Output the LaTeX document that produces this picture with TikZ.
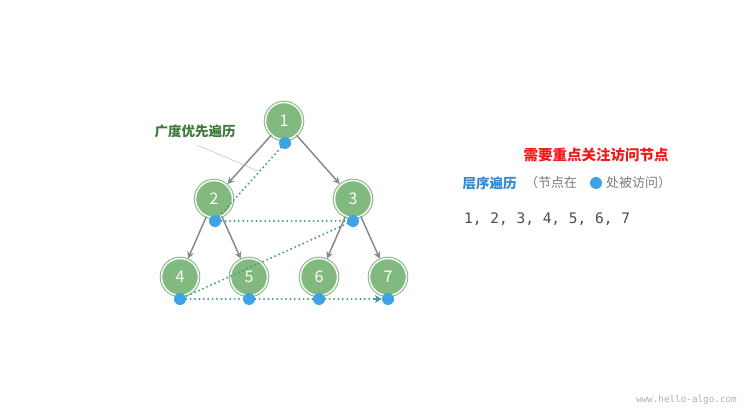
\documentclass[tikz,border=0pt]{standalone}
\usepackage{fontspec}
\usetikzlibrary{arrows.meta}
\newfontfamily\cjk{Noto Sans CJK SC}
\newfontfamily\monof{DejaVu Sans Mono}
\definecolor{ngreen}{HTML}{82B97E}
\definecolor{ring}{HTML}{86BC82}
\definecolor{dotblue}{HTML}{3DA2E6}
\definecolor{trav}{HTML}{449D91}
\definecolor{edgegray}{HTML}{8A8A8A}
\definecolor{lblgreen}{HTML}{3F7A3C}
\definecolor{lblblue}{HTML}{2E8AD4}
\definecolor{lblred}{HTML}{F01818}
\definecolor{txtgray}{HTML}{7A7A7A}
\tikzset{
  tn/.style={circle, fill=ngreen, draw=ring, line width=1.1pt, double=white, double distance=1.4pt,
    minimum size=37pt, inner sep=0pt, text=white, font=\cjk\fontsize{16}{16}\selectfont},
  vdot/.style={circle, fill=dotblue, minimum size=12pt, inner sep=0pt},
  tedge/.style={draw=edgegray, line width=1.5pt, -{Stealth[length=7pt,width=7pt]}, shorten >=1pt},
  tpath/.style={draw=trav, line width=2.2pt, line cap=round, dash pattern=on 0pt off 4.4pt},
}
\begin{document}
\begin{tikzpicture}[x=1pt,y=-1pt]
\useasboundingbox[fill=white] (0,0) rectangle (746,409);
% tree nodes
\node[tn] (n1) at (284,121) {1};
\node[tn] (n2) at (214,199) {2};
\node[tn] (n3) at (353,199) {3};
\node[tn] (n4) at (180,277) {4};
\node[tn] (n5) at (249,277) {5};
\node[tn] (n6) at (319,277) {6};
\node[tn] (n7) at (388,277) {7};
% tree edges
\draw[tedge] (n1) -- (n2);
\draw[tedge] (n1) -- (n3);
\draw[tedge] (n2) -- (n4);
\draw[tedge] (n2) -- (n5);
\draw[tedge] (n3) -- (n6);
\draw[tedge] (n3) -- (n7);
% visit dots
\node[vdot] (d1) at (285,143) {};
\node[vdot] (d2) at (215,221) {};
\node[vdot] (d3) at (353,221) {};
\node[vdot] (d4) at (180,299) {};
\node[vdot] (d5) at (249,299) {};
\node[vdot] (d6) at (319,299) {};
\node[vdot] (d7) at (388,299) {};
% traversal path
\draw[tpath] (d1) -- (d2);
\draw[tpath] (d2) -- (d3);
\draw[tpath] (d3) -- (d4);
\draw[tpath] (d4) -- (d5);
\draw[tpath] (d5) -- (d6);
\draw[tpath] (d6) -- (d7);
\draw[draw=trav, line width=2pt, -{Stealth[length=7pt,width=8pt]}] ([xshift=-8pt]d7.west) -- (d7.west);
% label
\node[font=\cjk\bfseries\fontsize{13.5}{14}\selectfont, text=lblgreen] (lbl) at (195,131) {广度优先遍历};
\coordinate (la) at (197,145);
\coordinate (lb) at (258,171);
\draw[draw=gray!50, line width=0.5pt] (la) -- (lb);
% right side texts
\node[font=\cjk\bfseries\fontsize{14.5}{15}\selectfont, text=lblred] (t1) at (596,155) {需要重点关注访问节点};
\node[font=\cjk\bfseries\fontsize{13.5}{14}\selectfont, text=lblblue, anchor=west] (t2) at (459,183) {层序遍历};
\node[font=\cjk\fontsize{13}{14}\selectfont, text=txtgray, anchor=west, inner sep=0pt] (t3a) at (525,183) {（节点在};
\node[vdot] (t3d) at (596,183) {};
\node[font=\cjk\fontsize{13}{14}\selectfont, text=txtgray, anchor=west, inner sep=0pt] (t3b) at (606,183) {处被访问）};
\node[font=\monof\fontsize{14.5}{15}\selectfont, text=black!70, anchor=west, inner sep=0pt] (seq) at (464,219) {1, 2, 3, 4, 5, 6, 7};
\node[font=\monof\fontsize{9.3}{10}\selectfont, text=black!30, anchor=east, inner sep=0pt] (wm) at (737,400) {www.hello-algo.com};
\end{tikzpicture}
\end{document}
